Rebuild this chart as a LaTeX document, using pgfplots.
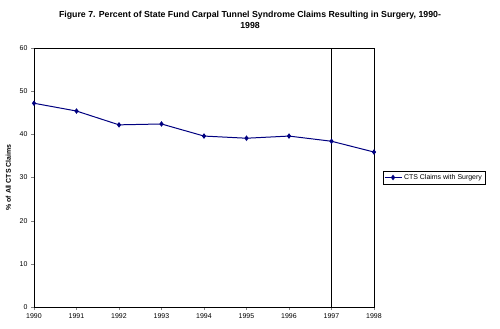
\documentclass[border=0pt]{standalone}
\usepackage{fontspec}
\setmainfont{Liberation Sans}
\usepackage{pgfplots}
\pgfplotsset{compat=1.18}
\definecolor{navy}{RGB}{0,0,128}
\begin{document}
\begin{tikzpicture}[x=1bp,y=1bp]
\path[use as bounding box] (0,0) rectangle (500,328);
\node[font=\bfseries\fontsize{8.8}{11}\selectfont, align=center] at (250,308) {Figure 7. Percent of State Fund Carpal Tunnel Syndrome Claims Resulting in Surgery, 1990-\\1998};
\begin{axis}[
  at={(34bp,21bp)}, anchor=origin,
  scale only axis, width=340bp, height=259bp,
  xmin=1990, xmax=1998, ymin=0, ymax=60,
  xtick={1990,...,1998}, ytick={0,10,...,60},
  x tick label style={/pgf/number format/1000 sep={}},
  tick label style={font=\fontsize{7}{8}\selectfont},
  /pgf/number format/assume math mode=true,
  tick align=outside, tick pos=left,
  major tick length=3bp,
  axis line style={black, line width=0.6pt},
  ylabel={\bfseries \% of All CTS Claims},
  ylabel style={font=\fontsize{7}{8}\selectfont, at={(ticklabel cs:0.5)}, yshift=2bp},
  legend style={at={(1.026,0.5)}, anchor=west, font=\fontsize{7}{8}\selectfont, draw=black, inner sep=1pt, row sep=-1pt, /tikz/every even column/.append style={column sep=2pt}},
  legend cell align=left,
  clip=false,
]
\addplot[black, line width=1.2pt, forget plot] coordinates {(1997,0) (1997,60)};
\addplot[navy, line width=1pt, mark=diamond*, mark size=2pt, mark options={fill=navy}] coordinates {
(1990,47.2) (1991,45.4) (1992,42.2) (1993,42.4) (1994,39.6) (1995,39.1) (1996,39.6) (1997,38.4) (1998,35.9)};
\addlegendentry{CTS Claims with Surgery}
\end{axis}
\end{tikzpicture}
\end{document}
